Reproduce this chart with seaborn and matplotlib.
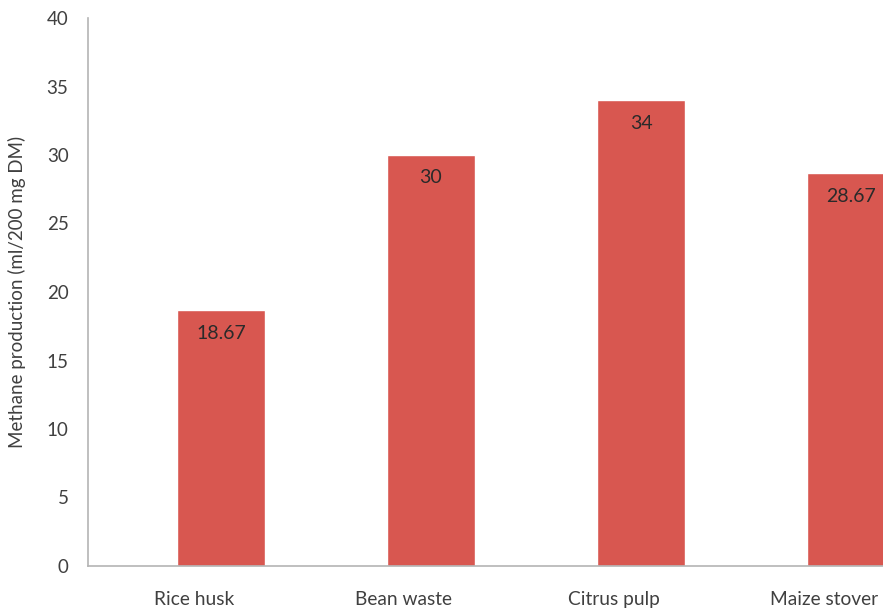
import pandas as pd
import seaborn as sns
import matplotlib.pyplot as plt
from matplotlib.transforms import ScaledTranslation

substrates = ["Rice husk", "Bean waste", "Citrus pulp", "Maize stover"]
methane = [18.67, 30, 34, 28.67]
value_labels = ["18.67", "30", "34", "28.67"]

df = pd.DataFrame({"substrate": substrates, "methane": methane})

sns.set_theme(style="white")
plt.rcParams["font.family"] = ["Lato", "DejaVu Sans"]

fig = plt.figure(figsize=(8.83, 6.12), dpi=100)
ax = fig.add_axes([88 / 883, 46 / 612, 1 - 88 / 883, 548 / 612])

sns.barplot(data=df, x="substrate", y="methane", color="#D85750",
            saturation=1, width=0.42, ax=ax)

ax.set_xlim(-0.633, 3.152)
ax.set_ylim(0, 40)
ax.set_yticks(range(0, 41, 5))
ax.tick_params(axis="y", length=0, pad=14, labelsize=13.5, labelcolor="#404040")
ax.tick_params(axis="x", length=0, pad=18, labelsize=13.8, labelcolor="#404040")
ax.set_xlabel("")
ax.set_ylabel("Methane production (ml/200 mg DM)", fontsize=13.5, color="#404040",
              labelpad=15)

# category labels sit a little left of the bars in the original
for lab in ax.get_xticklabels():
    lab.set_transform(lab.get_transform() + ScaledTranslation(-0.27, 0, fig.dpi_scale_trans))

for s in ["top", "right"]:
    ax.spines[s].set_visible(False)
for s in ["left", "bottom"]:
    ax.spines[s].set_color("#b4b4b4")
    ax.spines[s].set_linewidth(1.2)

for i, (v, lab) in enumerate(zip(methane, value_labels)):
    ax.annotate(lab, (i, v), xytext=(0, -16.5), textcoords="offset points",
                ha="center", va="center", fontsize=14, color="#2a2a2a")

fig.savefig("out.png", dpi=100)
